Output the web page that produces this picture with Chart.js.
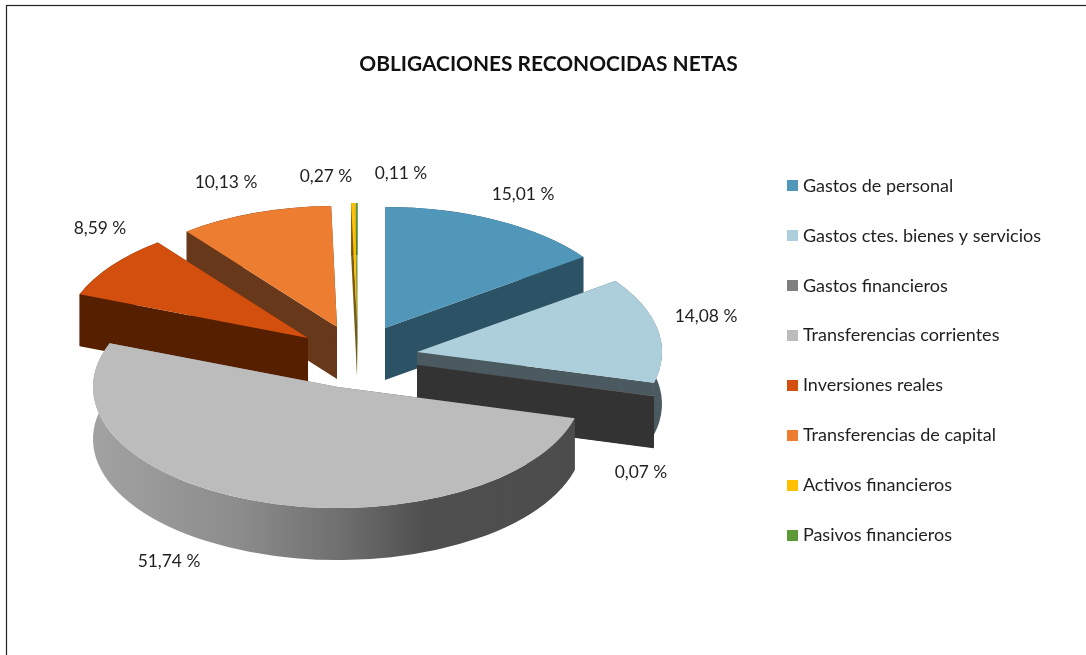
<!DOCTYPE html>
<html><head><meta charset="utf-8">
<style>html,body{margin:0;padding:0;background:#fff;overflow:hidden}canvas{display:block}</style>
<script src="https://cdn.jsdelivr.net/npm/chart.js@4"></script>
</head><body>
<canvas id="c" width="1086" height="655"></canvas>
<script>
const chartTitle = 'OBLIGACIONES RECONOCIDAS NETAS';
const categories = ['Gastos de personal','Gastos ctes. bienes y servicios','Gastos financieros','Transferencias corrientes','Inversiones reales','Transferencias de capital','Activos financieros','Pasivos financieros'];
const shares = [15.01,14.08,0.07,51.74,8.59,10.13,0.27,0.11];

// styling
const topColors = ['#5097b9','#adcfdb','#7f7f7f','#bcbcbc','#d34f0e','#ed7d31','#ffc000','#5b9a36'];
const sideColors = ['#2c5266','#4a5a60','#333333',null,'#562000','#68381a','#7a5c10','#4a5f30'];
const sliceCentres = [[385,328],[417,352],[417,365],[338,387],[308,338],[337,327],[357,324],[357.5,324]];
const labelCentres = [[523,194],[706,316],[641,472],[169,561],[100,228],[226,182],[326,176],[401,173]];
const sideFirst = [6,7];
const drawOrder = [0,5,7,6,4,1,2,3];
const RADIUS = 245, TILT = 121/245, DEPTH = 52;
const FONT = 'Lato';

const swatches = topColors.map(col => {
  const s = document.createElement('canvas'); s.width = 11; s.height = 11;
  const g = s.getContext('2d'); g.fillStyle = col; g.fillRect(0,0,11,11); return s;
});
const fmt = v => v.toFixed(2).replace('.', ',') + ' %';

function drawSide(ctx, arc, i) {
  const [cx, cy] = sliceCentres[i];
  const r = arc.outerRadius, rY = r * TILT;
  const s = arc.startAngle, e = arc.endAngle;
  const P = a => [cx + r * Math.cos(a), cy + rY * Math.sin(a)];
  let side = sideColors[i];
  if (!side) {
    const g = ctx.createLinearGradient(cx - r, 0, cx + r, 0);
    g.addColorStop(0, '#a2a2a2');
    g.addColorStop(0.3, '#8c8c8c');
    g.addColorStop(0.5, '#707070');
    g.addColorStop(0.68, '#4f4f4f');
    g.addColorStop(1, '#4c4c4c');
    side = g;
  }
  ctx.save();
  ctx.fillStyle = side;
  [s, e].forEach(a => {
    const p = P(a);
    ctx.beginPath();
    ctx.moveTo(cx, cy); ctx.lineTo(p[0], p[1]);
    ctx.lineTo(p[0], p[1] + DEPTH); ctx.lineTo(cx, cy + DEPTH);
    ctx.closePath(); ctx.fill();
  });
  ctx.beginPath();
  ctx.ellipse(cx, cy, r, rY, 0, s, e);
  ctx.ellipse(cx, cy + DEPTH, r, rY, 0, e, s, true);
  ctx.closePath(); ctx.fill();
  ctx.restore();
}
function drawTop(ctx, arc, i) {
  const [cx, cy] = sliceCentres[i];
  ctx.save();
  ctx.translate(cx, cy);
  ctx.scale(1, TILT);
  ctx.translate(-arc.x, -arc.y);
  arc.draw(ctx);
  ctx.restore();
}

const pie3d = {
  id: 'pie3d',
  beforeDraw(chart) {
    const ctx = chart.ctx;
    ctx.save(); ctx.strokeStyle = '#222'; ctx.lineWidth = 1.2;
    ctx.strokeRect(6.5, 5.5, 1300, 1000); ctx.restore();
  },
  beforeDatasetsDraw(chart) {
    const ctx = chart.ctx;
    const arcs = chart.getDatasetMeta(0).data;
    sideFirst.forEach(i => drawSide(ctx, arcs[i], i));
    drawOrder.forEach(i => {
      if (!sideFirst.includes(i)) drawSide(ctx, arcs[i], i);
      drawTop(ctx, arcs[i], i);
    });
    ctx.save();
    ctx.font = '17.4px ' + FONT;
    ctx.fillStyle = '#1f1f1f';
    ctx.textAlign = 'center';
    ctx.textBaseline = 'middle';
    shares.forEach((v, i) => ctx.fillText(fmt(v), labelCentres[i][0], labelCentres[i][1]));
    ctx.restore();
    return false;
  }
};

new Chart(document.getElementById('c'), {
  type: 'pie',
  data: { labels: categories, datasets: [{ data: shares, backgroundColor: topColors, borderWidth: 0 }] },
  plugins: [pie3d],
  options: {
    responsive: false,
    animation: false,
    radius: RADIUS,
    layout: { padding: { left: 46, right: 35, top: 0, bottom: 31 } },
    plugins: {
      tooltip: { enabled: false },
      title: { display: true, text: chartTitle, color: '#111',
        font: { family: FONT, size: 20.9, weight: 'bold' }, padding: { top: 52, bottom: 20 } },
      legend: {
        position: 'right',
        fullSize: false,
        labels: {
          color: '#1f1f1f',
          font: { family: FONT, size: 18 },
          padding: 31.9,
          usePointStyle: true,
          pointStyleWidth: 3,
          boxHeight: 11,
          generateLabels(chart) {
            return categories.map((t, i) => ({ text: t, fillStyle: topColors[i], strokeStyle: topColors[i], lineWidth: 0, pointStyle: swatches[i], index: i, hidden: false, fontColor: '#1f1f1f' }));
          }
        }
      }
    }
  }
});
</script>
</body></html>
